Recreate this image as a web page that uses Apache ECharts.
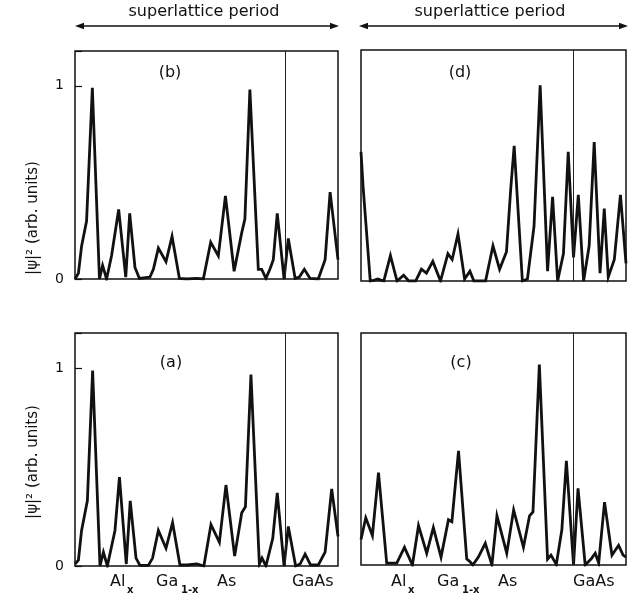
<!DOCTYPE html>
<html>
<head>
<meta charset="utf-8">
<script src="https://cdn.jsdelivr.net/npm/echarts@6/dist/echarts.min.js"></script>
<style>
  html, body { margin: 0; padding: 0; background: #fff; }
  #chart { width: 644px; height: 596px; }
</style>
</head>
<body>
<div id="chart"></div>
<script>
// Probability density |psi|^2 along one superlattice period (normalised position 0..100)
const bX = [0,1.3,2.5,4.4,6.6,9.3,10.5,12.0,13.9,16.6,19.3,20.8,22.8,24.5,28.5,29.8,31.7,34.6,36.9,39.7,42.5,46.3,48.8,51.6,54.5,57.2,60.5,63.4,64.6,66.5,69.7,71.0,72.6,74.1,75.4,76.9,79.5,81.1,83.7,85.3,87.2,89.4,92.5,95.1,97.0,100];
const bY = [0,0.03,0.17,0.30,0.99,0,0.07,0,0.12,0.36,0.01,0.34,0.06,0.003,0.01,0.05,0.16,0.09,0.22,0.003,0,0.003,0,0.19,0.12,0.43,0.04,0.24,0.31,0.98,0.05,0.05,0.003,0.05,0.10,0.34,0,0.21,0.003,0.01,0.05,0.003,0,0.10,0.45,0.10];

const dX = [0,0.8,3.5,4.8,6.3,8.6,11.1,13.6,16.1,18.0,20.6,22.8,24.7,27.1,30.0,32.8,34.4,36.6,39.1,41.1,42.6,47.0,49.8,52.3,54.9,56.5,57.8,60.9,62.8,65.3,67.6,70.4,72.3,74.2,76.4,78.2,80.2,82.0,84.0,86.1,88.0,90.2,91.8,93.3,95.6,97.9,100];
const dY = [0.66,0.48,0,0.003,0.01,0,0.13,0,0.03,0,0,0.06,0.04,0.10,0,0.14,0.11,0.24,0.01,0.05,0,0,0.18,0.06,0.15,0.47,0.69,0,0.01,0.28,1.0,0.05,0.43,0,0.14,0.66,0.12,0.44,0,0.18,0.71,0.04,0.37,0.02,0.11,0.44,0.09];

const aX = [0,1.3,2.5,4.7,6.7,9.5,10.8,12.3,15.2,16.9,19.5,21.0,23.2,24.7,27.9,29.5,31.7,34.6,37.1,39.9,42.5,46.3,49.0,51.7,54.9,57.4,60.7,63.4,64.8,66.9,70.1,71.1,72.6,75.2,76.9,79.5,81.1,83.9,85.6,87.5,89.6,92.5,95.1,97.6,100];
const aY = [0.01,0.03,0.18,0.33,0.99,0,0.07,0,0.18,0.45,0.01,0.33,0.04,0.003,0.003,0.04,0.18,0.09,0.22,0.005,0.005,0.01,0,0.21,0.12,0.41,0.05,0.27,0.30,0.97,0.01,0.04,0,0.14,0.37,0,0.20,0,0.01,0.06,0.005,0.005,0.07,0.39,0.15];

const cX = [0,1.8,4.3,6.6,9.7,13.5,16.4,19.4,21.7,24.8,27.3,30.2,33.0,34.3,36.8,39.9,40.9,42.2,44.3,46.9,49.4,51.3,55.0,57.6,61.3,63.6,64.9,67.3,70.4,71.7,73.7,75.8,77.5,80.2,81.9,84.6,86.8,88.4,89.7,91.9,94.7,97.2,98.9,100];
const cY = [0.13,0.24,0.15,0.47,0.01,0.01,0.09,0,0.20,0.06,0.19,0.04,0.23,0.22,0.58,0.03,0.02,0,0.04,0.11,0,0.25,0.06,0.28,0.09,0.25,0.27,1.02,0.03,0.05,0.003,0.18,0.53,0,0.39,0,0.03,0.06,0.01,0.32,0.05,0.10,0.05,0.04];

// AlGaAs / GaAs interface position within the period
const interfaceX = 80;
const panelLabels = ['(b)', '(d)', '(a)', '(c)'];
const yTickLabels = ['0', '1'];
const yAxisTitle = '|ψ|² (arb. units)';
const periodTitle = 'superlattice period';

const FONT = '"DejaVu Sans", sans-serif';
const INK = '#111';

const grids = [
  { left: 75, top: 51, width: 263, height: 228 },   // (b)
  { left: 361, top: 50, width: 265, height: 231 },  // (d)
  { left: 75, top: 333, width: 263, height: 233 },  // (a)
  { left: 361, top: 333, width: 265, height: 232 }  // (c)
].map(g => Object.assign({ show: true, borderColor: INK, borderWidth: 1.5, backgroundColor: 'transparent' }, g));

const zip = (xs, ys) => xs.map((x, i) => [x, ys[i]]);
const curves = [zip(bX, bY), zip(dX, dY), zip(aX, aY), zip(cX, cY)];

const xAxes = grids.map((g, i) => ({
  gridIndex: i, type: 'value', min: 0, max: 100,
  axisLine: { show: false }, axisTick: { show: false },
  axisLabel: { show: false }, splitLine: { show: false }
}));

const yAxes = grids.map((g, i) => {
  const left = (i % 2 === 0);
  return {
    gridIndex: i, type: 'value', min: 0, max: 1.18, interval: 1,
    axisLine: { show: false },
    splitLine: { show: false },
    axisTick: { show: left, inside: true, length: 7, lineStyle: { color: INK, width: 1.2 } },
    axisLabel: {
      show: left, margin: 11, color: INK, fontFamily: FONT, fontSize: 14,
      formatter: v => yTickLabels[v] !== undefined ? yTickLabels[v] : ''
    }
  };
});

const series = curves.map((data, i) => ({
  type: 'line', xAxisIndex: i, yAxisIndex: i, data: data,
  symbol: 'none', smooth: false,
  lineStyle: { color: INK, width: 2.8, join: 'miter', miterLimit: 6 },
  markLine: {
    silent: true, symbol: 'none', label: { show: false },
    lineStyle: { color: '#222', width: 1, type: 'solid' },
    data: [{ xAxis: interfaceX }]
  }
}));

// Text and arrow decorations
const graphic = [];
function addText(x, y, text, opts) {
  graphic.push({
    type: 'text', x: x, y: y, rotation: (opts && opts.rotation) || 0,
    style: Object.assign({
      text: text, fill: INK, font: '16px ' + FONT,
      textAlign: 'center', textVerticalAlign: 'middle'
    }, (opts && opts.style) || {})
  });
}
function addDoubleArrow(x1, x2, y) {
  graphic.push({ type: 'line', shape: { x1: x1 + 6, y1: y, x2: x2 - 6, y2: y }, style: { stroke: INK, lineWidth: 1.3 } });
  graphic.push({ type: 'polygon', shape: { points: [[x1, y], [x1 + 9, y - 3.2], [x1 + 9, y + 3.2]] }, style: { fill: INK } });
  graphic.push({ type: 'polygon', shape: { points: [[x2, y], [x2 - 9, y - 3.2], [x2 - 9, y + 3.2]] }, style: { fill: INK } });
}

// period arrows above the top row
addText(204, 12, periodTitle);
addDoubleArrow(75, 339, 26);
addText(490, 12, periodTitle);
addDoubleArrow(359, 628, 26);

// panel tags
addText(170, 73, panelLabels[0]);
addText(460, 73, panelLabels[1]);
addText(171, 363, panelLabels[2]);
addText(461, 363, panelLabels[3]);

// y-axis titles
addText(33, 218, yAxisTitle, { rotation: Math.PI / 2, style: { font: '15px ' + FONT } });
addText(33, 462, yAxisTitle, { rotation: Math.PI / 2, style: { font: '15px ' + FONT } });

// layer labels beneath the bottom row
function addLayerLabels(x0) {
  const base = 582, sub = 590;
  const s = { textAlign: 'left' };
  addText(x0, base, 'Al', { style: s });
  addText(x0 + 17, sub, 'x', { style: { textAlign: 'left', font: 'bold 10px ' + FONT } });
  addText(x0 + 46, base, 'Ga', { style: s });
  addText(x0 + 71, sub, '1-x', { style: { textAlign: 'left', font: 'bold 10px ' + FONT } });
  addText(x0 + 107, base, 'As', { style: s });
  addText(x0 + 182, base, 'GaAs', { style: s });
}
addLayerLabels(110);
addLayerLabels(391);

const chart = echarts.init(document.getElementById('chart'), null, { renderer: 'canvas' });
chart.setOption({
  animation: false,
  backgroundColor: '#fff',
  grid: grids,
  xAxis: xAxes,
  yAxis: yAxes,
  series: series,
  graphic: graphic
});
</script>
</body>
</html>
